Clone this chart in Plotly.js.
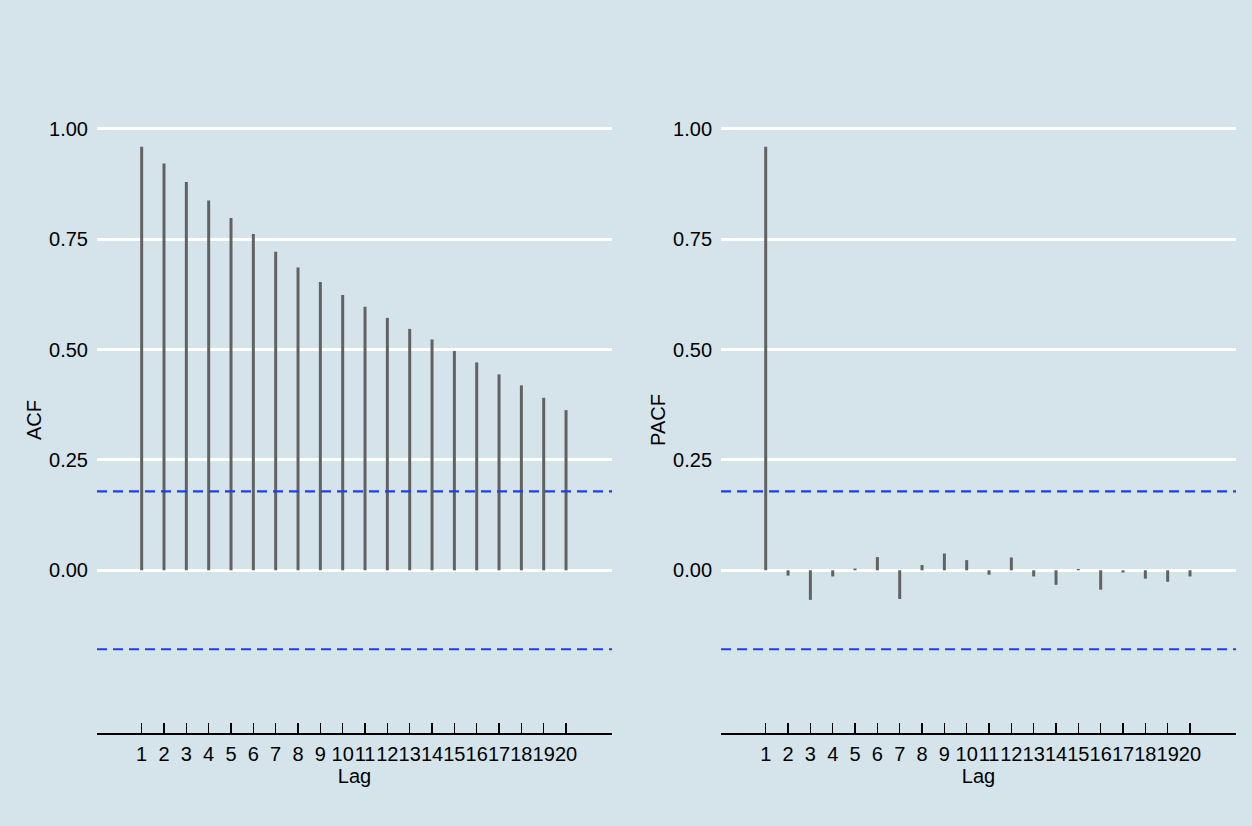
<!DOCTYPE html>
<html>
<head>
<meta charset="utf-8">
<script src="https://cdn.plot.ly/plotly-3.0.1.min.js"></script>
<style>html,body{margin:0;padding:0;background:#d5e4eb;}#chart{width:1252px;height:826px;}</style>
</head>
<body>
<div id="chart"></div>
<script>
const lags = [1,2,3,4,5,6,7,8,9,10,11,12,13,14,15,16,17,18,19,20];
const acfValues = [0.960,0.922,0.880,0.838,0.798,0.762,0.722,0.686,0.653,0.624,0.597,0.572,0.547,0.523,0.497,0.471,0.444,0.419,0.391,0.363];
const pacfValues = [0.960,-0.012,-0.067,-0.014,0.004,0.030,-0.065,0.012,0.038,0.023,-0.010,0.029,-0.014,-0.033,0.003,-0.044,-0.005,-0.019,-0.026,-0.014];
const yTickVals = [0,0.25,0.5,0.75,1];
const nObs = 120;
const conf = 1.96/Math.sqrt(nObs);

const bg = '#d5e4eb';
const barColor = '#626262';
const fontFam = '"Liberation Sans", Arial, sans-serif';

// build vertical segments (lag, 0) -> (lag, value) from the data arrays
function stems(xs, ys){
  const sx = [], sy = [];
  xs.forEach((x,i)=>{ sx.push(x, x, null); sy.push(0, ys[i], null); });
  return {x:sx, y:sy};
}
const acfStems = stems(lags, acfValues);
const pacfStems = stems(lags, pacfValues);

const traces = [
  {type:'scatter', mode:'lines', x:acfStems.x, y:acfStems.y, xaxis:'x', yaxis:'y', line:{color:barColor, width:3}, connectgaps:false, hoverinfo:'skip'},
  {type:'scatter', mode:'lines', x:pacfStems.x, y:pacfStems.y, xaxis:'x2', yaxis:'y2', line:{color:barColor, width:3}, connectgaps:false, hoverinfo:'skip'}
];

function xAxis(domain, anchor){
  return {
    domain:domain, anchor:anchor, range:[-1,22.06],
    tickvals:lags, ticktext:lags.map(String), tickangle:0,
    ticks:'inside', ticklen:10, tickwidth:1.5, tickcolor:'#000',
    showline:true, linecolor:'#000', linewidth:1.5,
    showgrid:false, zeroline:false,
    tickfont:{size:20, color:'#000', family:fontFam},
    ticklabelstandoff:2,
    title:{text:'Lag', font:{size:20, color:'#000', family:fontFam}, standoff:0},
    fixedrange:true
  };
}
function yAxis(title, anchor){
  return {
    anchor:anchor, range:[-0.3687,1.0498],
    tickvals:yTickVals, tickformat:'.2f',
    ticks:'', showline:false, zeroline:false,
    showgrid:true, gridcolor:'#ffffff', gridwidth:3,
    tickfont:{size:20, color:'#000', family:fontFam},
    ticklabelstandoff:8,
    title:{text:title, font:{size:20, color:'#000', family:fontFam}, standoff:2},
    fixedrange:true
  };
}

const dashLine = (xref, yref, yv) => ({
  type:'line', xref:xref+' domain', yref:yref, x0:0, x1:1, y0:yv, y1:yv,
  line:{color:'#1f3fe8', width:2.2, dash:'10px,6px'}, layer:'above'
});

const layout = {
  width:1252, height:826,
  paper_bgcolor:bg, plot_bgcolor:bg,
  margin:{l:97, r:16, t:107, b:93},
  showlegend:false,
  font:{family:fontFam, color:'#000'},
  xaxis:xAxis([0,0.4522],'y'),
  yaxis:yAxis('ACF','x'),
  xaxis2:xAxis([0.5479,1],'y2'),
  yaxis2:yAxis('PACF','x2'),
  shapes:[
    dashLine('x','y',conf), dashLine('x','y',-conf),
    dashLine('x2','y2',conf), dashLine('x2','y2',-conf)
  ]
};

Plotly.newPlot('chart', traces, layout, {displayModeBar:false, staticPlot:true});
</script>
</body>
</html>
